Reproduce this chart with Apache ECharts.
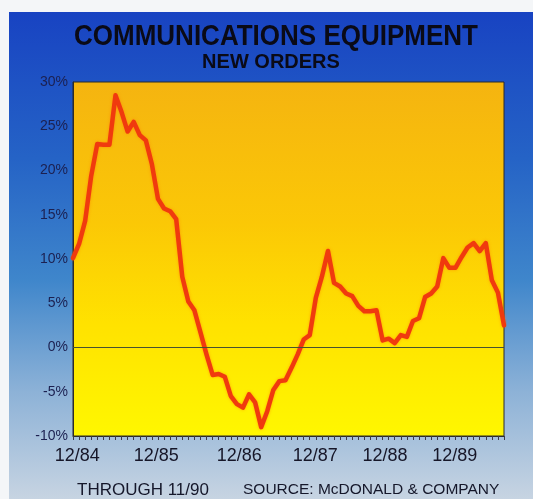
<!DOCTYPE html>
<html>
<head>
<meta charset="utf-8">
<title>Communications Equipment — New Orders</title>
<script src="https://cdn.jsdelivr.net/npm/echarts@6/dist/echarts.min.js"></script>
<style>
  html, body { margin: 0; padding: 0; background: #ffffff; }
  #chart { width: 533px; height: 499px; }
</style>
</head>
<body>
<div id="chart"></div>
<script>
// Year-over-year change in new orders, monthly, 12/84 through 11/90 (percent)
const newOrders = [
  10.1, 11.7, 14.3, 19.4, 23.0, 22.9, 22.9, 28.5, 26.6, 24.4, 25.5, 24.0,
  23.4, 20.7, 16.8, 15.7, 15.4, 14.5,  8.0,  5.2,  4.2,  1.7, -0.8, -3.1,
  -3.0, -3.3, -5.5, -6.4, -6.8, -5.3, -6.2, -9.0, -7.2, -4.8, -3.8, -3.7,
  -2.3, -0.8,  0.9,  1.4,  5.6,  8.0, 10.9,  7.3,  6.9,  6.1,  5.8,  4.7,
   4.1,  4.1,  4.2,  0.8,  1.0,  0.5,  1.4,  1.2,  3.0,  3.3,  5.7,  6.1,
   6.9, 10.1,  9.0,  9.0, 10.2, 11.3, 11.8, 10.9, 11.8,  7.6,  6.2,  2.5
];

// Bottom axis labels and the month offsets (from 12/84) where they sit
const xTickLabels = ['12/84', '12/85', '12/86', '12/87', '12/88', '12/89'];
const xTickAt = [0.7, 13.7, 27.4, 39.9, 51.4, 62.9];

// Left axis range
const yMin = -10, yMax = 30, yStep = 5;

const seriesData = newOrders.map((v, i) => [i, v]);
const monthTicks = newOrders.map((v, i) => i);

const chart = echarts.init(document.getElementById('chart'), null, { renderer: 'canvas' });

const sans = '"Liberation Sans", Arial, Helvetica, sans-serif';

chart.setOption({
  animation: false,
  backgroundColor: '#ffffff',
  graphic: [
    {
      type: 'rect', z: -20, silent: true,
      shape: { x: 0, y: 0, width: 533, height: 499 },
      style: { fill: '#f4f6f8' }
    },
    {
      type: 'rect', z: -19, silent: true,
      shape: { x: 9, y: 12, width: 524, height: 487 },
      style: {
        fill: {
          type: 'linear', x: 0, y: 0, x2: 0, y2: 1,
          colorStops: [
            { offset: 0,    color: '#1843c2' },
            { offset: 0.3,  color: '#2563c6' },
            { offset: 0.55, color: '#3f86cb' },
            { offset: 0.78, color: '#8db2d7' },
            { offset: 1,    color: '#c7d4e2' }
          ]
        }
      }
    },
    {
      type: 'text', x: 276, y: 37, scaleY: 1.12, z: 10,
      style: {
        text: 'COMMUNICATIONS EQUIPMENT',
        font: '900 26px ' + sans,
        fill: '#0a0a16', align: 'center', verticalAlign: 'middle'
      }
    },
    {
      type: 'text', x: 271, y: 62, scaleY: 1.05, z: 10,
      style: {
        text: 'NEW ORDERS',
        font: '900 20px ' + sans,
        fill: '#0a0a16', align: 'center', verticalAlign: 'middle'
      }
    },
    {
      type: 'text', x: 77, y: 490, z: 10,
      style: {
        text: 'THROUGH 11/90',
        font: '17px ' + sans,
        fill: '#15172a', align: 'left', verticalAlign: 'middle'
      }
    },
    {
      type: 'text', x: 243, y: 490, z: 10,
      style: {
        text: 'SOURCE: McDONALD & COMPANY',
        font: '15.5px ' + sans,
        fill: '#15172a', align: 'left', verticalAlign: 'middle'
      }
    }
  ],
  grid: {
    left: 73, right: 29, top: 82, bottom: 63,
    outerBoundsMode: 'none',
    show: true,
    borderColor: '#2b2b2b',
    borderWidth: 1,
    backgroundColor: {
      type: 'linear', x: 0, y: 0, x2: 0, y2: 1,
      colorStops: [
        { offset: 0,    color: '#f5b410' },
        { offset: 0.4,  color: '#fbc806' },
        { offset: 0.68, color: '#ffe200' },
        { offset: 1,    color: '#fff700' }
      ]
    }
  },
  xAxis: {
    type: 'value',
    min: 0,
    max: newOrders.length - 1,
    splitLine: { show: false },
    axisLine: { show: true, onZero: false, lineStyle: { color: '#2b2b2b', width: 1 } },
    axisTick: {
      show: true,
      customValues: monthTicks,
      length: 4,
      lineStyle: { color: '#3a3a46', width: 1 }
    },
    axisLabel: {
      show: true,
      customValues: xTickAt,
      margin: 11,
      color: '#161628',
      fontFamily: sans,
      fontSize: 18,
      formatter: (v) => {
        const k = xTickAt.findIndex(t => Math.abs(t - v) < 1e-6);
        return k >= 0 ? xTickLabels[k] : '';
      }
    }
  },
  yAxis: {
    type: 'value',
    min: yMin,
    max: yMax,
    interval: yStep,
    splitLine: { show: false },
    axisLine: { show: true, lineStyle: { color: '#2b2b2b', width: 1 } },
    axisTick: { show: false },
    axisLabel: {
      margin: 5,
      color: '#1c2050',
      fontFamily: sans,
      fontSize: 14,
      formatter: '{value}%'
    }
  },
  series: [
    {
      type: 'line',
      data: seriesData,
      showSymbol: false,
      smooth: false,
      lineStyle: {
        color: '#f03a0e',
        width: 4.5,
        join: 'round',
        cap: 'round',
        shadowColor: 'rgba(255, 110, 0, 0.55)',
        shadowBlur: 3
      },
      markLine: {
        silent: true,
        symbol: 'none',
        label: { show: false },
        lineStyle: { color: '#465230', width: 1, type: 'solid' },
        data: [{ yAxis: 0 }]
      },
      z: 3
    }
  ]
});
</script>
</body>
</html>
